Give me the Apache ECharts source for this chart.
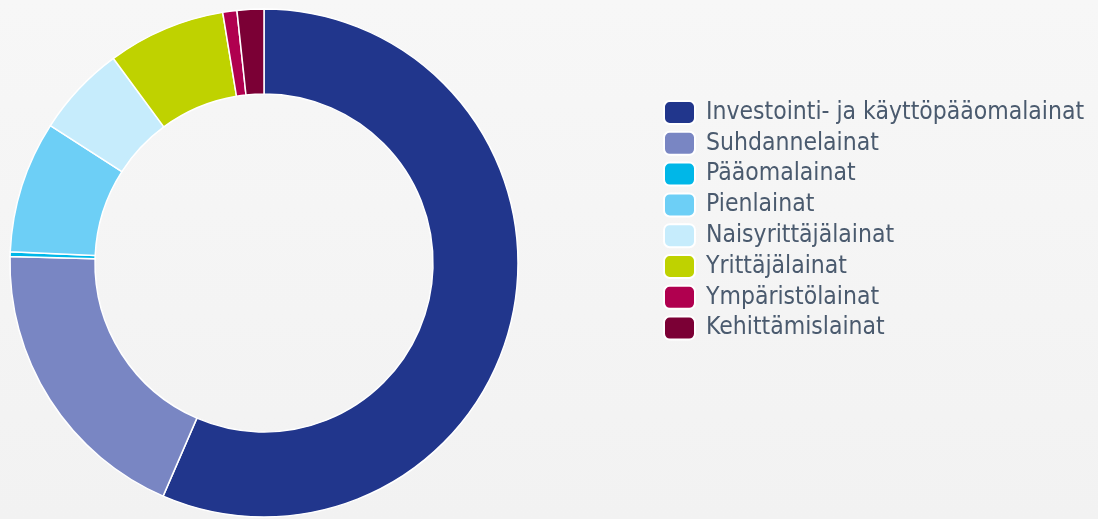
<!DOCTYPE html>
<html>
<head>
<meta charset="utf-8">
<script src="https://cdn.jsdelivr.net/npm/echarts@6/dist/echarts.min.js"></script>
<style>
  html, body { margin: 0; padding: 0; }
  #main { width: 1098px; height: 519px; background: linear-gradient(#f7f7f7, #f2f2f2); }
</style>
</head>
<body>
<div id="main"></div>
<script>
"use strict";
var categories = [
    "Investointi- ja käyttöpääomalainat",
    "Suhdannelainat",
    "Pääomalainat",
    "Pienlainat",
    "Naisyrittäjälainat",
    "Yrittäjälainat",
    "Ympäristölainat",
    "Kehittämislainat"
];
var shares = [56.5, 18.9, 0.3, 8.4, 5.8, 7.5, 0.9, 1.7];
var colors = ["#21368c", "#7986c3", "#00b7e8", "#6dcff6", "#c6ecfc", "#bfd200", "#b0004f", "#7b0035"];

var chartDom = document.getElementById('main');
var myChart = echarts.init(chartDom);

var pieData = categories.map(function (name, i) {
    return { name: name, value: shares[i] };
});

var option = {
    animation: false,
    color: colors,
    legend: {
        orient: 'vertical',
        left: 658,
        top: 95,
        itemWidth: 31,
        itemHeight: 23,
        itemGap: 5.8,
        icon: 'roundRect',
        textStyle: {
            fontFamily: 'DejaVu Sans Condensed',
            fontSize: 24.5,
            lineHeight: 23,
            color: '#4a5a6e',
            padding: [0, 0, 0, 6]
        },
        data: categories
    },
    series: [{
        type: 'pie',
        center: [264, 263],
        radius: [169, 254],
        startAngle: 90,
        clockwise: true,
        label: { show: false },
        labelLine: { show: false },
        itemStyle: { borderColor: '#ffffff', borderWidth: 1.5 },
        emphasis: { disabled: true },
        data: pieData
    }]
};
myChart.setOption(option);
</script>
</body>
</html>
